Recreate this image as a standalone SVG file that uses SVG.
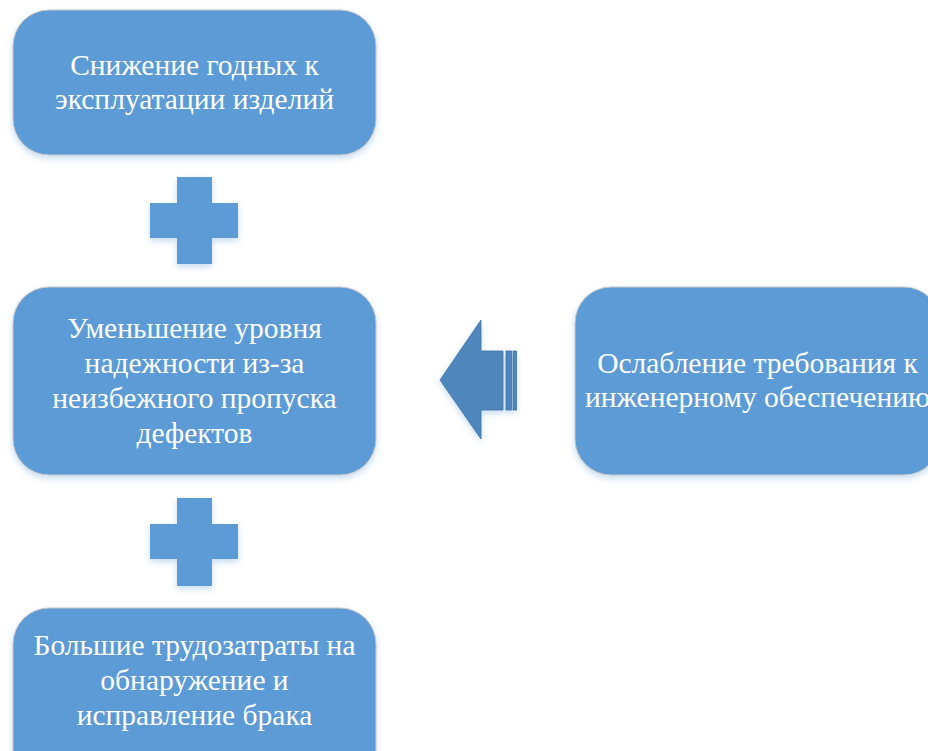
<svg xmlns="http://www.w3.org/2000/svg" width="928" height="751" viewBox="0 0 928 751">
  <defs>
    <filter id="soft" x="-10%" y="-10%" width="120%" height="130%">
      <feGaussianBlur in="SourceAlpha" stdDeviation="3"/>
      <feOffset dx="0" dy="3" result="b"/>
      <feFlood flood-color="#5b9bd5" flood-opacity="0.35"/>
      <feComposite in2="b" operator="in"/>
      <feMerge><feMergeNode/><feMergeNode in="SourceGraphic"/></feMerge>
    </filter>
  </defs>
  <style>
    .box { fill: #5b9bd5; stroke: #c8c8c8; stroke-width: 1; }
    .plus { fill: #5b9bd5; }
    .arrow { fill: #4f86bc; stroke: #3f72a8; stroke-width: 0.8; }
    .lbl { font-family: "Liberation Serif", "Times New Roman", serif; font-size: 29.5px; fill: #ffffff; text-anchor: middle; }
  </style>
  <rect width="928" height="751" fill="#ffffff"/>

  <g id="node-reduction">
    <rect class="box" x="13" y="10" width="363" height="145" rx="36" ry="36" filter="url(#soft)"/>
    <text class="lbl" x="194.5" y="75">Снижение годных к</text>
    <text class="lbl" x="194.5" y="109">эксплуатации изделий</text>
  </g>

  <g id="node-reliability">
    <rect class="box" x="13" y="287" width="363" height="188" rx="36" ry="36" filter="url(#soft)"/>
    <text class="lbl" x="194.5" y="338">Уменьшение уровня</text>
    <text class="lbl" x="194.5" y="373">надежности из-за</text>
    <text class="lbl" x="194.5" y="408">неизбежного пропуска</text>
    <text class="lbl" x="194.5" y="443">дефектов</text>
  </g>

  <g id="node-requirements">
    <rect class="box" x="575" y="287" width="365" height="188" rx="36" ry="36" filter="url(#soft)"/>
    <text class="lbl" x="757.5" y="373">Ослабление требования к</text>
    <text class="lbl" x="757.5" y="407">инженерному обеспечению</text>
  </g>

  <g id="node-labour">
    <rect class="box" x="13" y="608" width="363" height="180" rx="36" ry="36" filter="url(#soft)"/>
    <text class="lbl" x="194.5" y="655">Большие трудозатраты на</text>
    <text class="lbl" x="194.5" y="690">обнаружение и</text>
    <text class="lbl" x="194.5" y="725">исправление брака</text>
  </g>

  <g id="connectors">
    <path class="plus" filter="url(#soft)" d="M177,177 H212 V203 H238 V238 H212 V264 H177 V238 H150 V203 H177 Z"/>
    <path class="plus" filter="url(#soft)" d="M177,498 H212 V524 H238 V559 H212 V586 H177 V559 H150 V524 H177 Z"/>
    <g filter="url(#soft)">
      <path class="arrow" d="M440,380 L481,320 V351 H503 V410 H481 V439 Z"/>
      <rect class="arrow" x="506" y="351" width="5.5" height="59"/>
      <rect class="arrow" x="513" y="351" width="3.5" height="59"/>
    </g>
  </g>
</svg>
